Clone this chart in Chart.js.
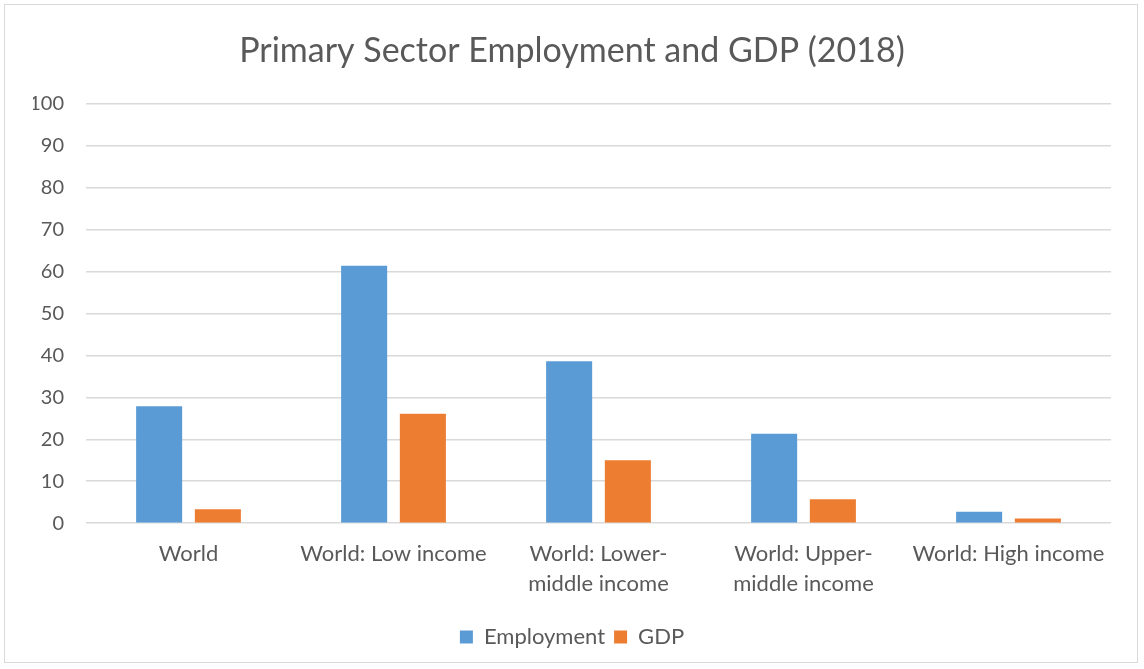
<!DOCTYPE html>
<html>
<head>
<meta charset="utf-8">
<script src="https://cdn.jsdelivr.net/npm/chart.js@4.4.0/dist/chart.umd.min.js"></script>
<style>
html,body{margin:0;padding:0;background:#fff;}
#wrap{position:absolute;left:4px;top:4px;width:1134px;height:659px;border:1px solid #D9D9D9;box-sizing:border-box;}
#c{position:absolute;left:0;top:0;}
</style>
</head>
<body>
<div id="wrap"><canvas id="c" width="1134" height="659"></canvas></div>
<script>
const categories = ["World", "World: Low income", ["World: Lower-", "middle income"], ["World: Upper-", "middle income"], "World: High income"];
const employment = [27.9, 61.4, 38.6, 21.3, 2.7];
const gdp = [3.3, 26.1, 15.0, 5.7, 1.1];
const yTicks = [0, 10, 20, 30, 40, 50, 60, 70, 80, 90, 100];

const FONT = "Lato, 'Open Sans', sans-serif";
const TXT = "#595959";

new Chart(document.getElementById('c'), {
  type: 'bar',
  data: {
    labels: categories,
    datasets: [
      {label: 'Employment', data: employment, backgroundColor: '#5B9BD5', borderWidth: 0, categoryPercentage: 0.573, barPercentage: 0.784},
      {label: 'GDP', data: gdp, backgroundColor: '#ED7D31', borderWidth: 0, categoryPercentage: 0.573, barPercentage: 0.784}
    ]
  },
  options: {
    responsive: false,
    animation: false,
    layout: {padding: {left: 28, right: 28, top: 10, bottom: 6}},
    plugins: {
      title: {display: true, text: 'Primary Sector Employment and GDP (2018)', color: TXT, font: {family: FONT, size: 34, weight: 'normal'}, padding: {top: 16, bottom: 32}},
      legend: {position: 'bottom', labels: {color: TXT, font: {family: FONT, size: 22}, boxWidth: 13, boxHeight: 13, padding: 9}},
      tooltip: {enabled: false}
    },
    scales: {
      x: {
        grid: {display: false},
        border: {display: false},
        afterFit: (axis) => { axis.height += 10; },
        ticks: {color: TXT, font: {family: FONT, size: 22, lineHeight: 1.36}, maxRotation: 0, autoSkip: false, padding: 8}
      },
      y: {
        min: 0, max: 100,
        afterBuildTicks: (axis) => { axis.ticks = yTicks.map(v => ({value: v})); },
        afterFit: (axis) => { axis.width = 53; },
        grid: {color: '#D9D9D9', lineWidth: 1.5, drawTicks: false},
        border: {display: false},
        ticks: {color: TXT, font: {family: FONT, size: 20}, padding: 22}
      }
    }
  }
});
</script>
</body>
</html>
